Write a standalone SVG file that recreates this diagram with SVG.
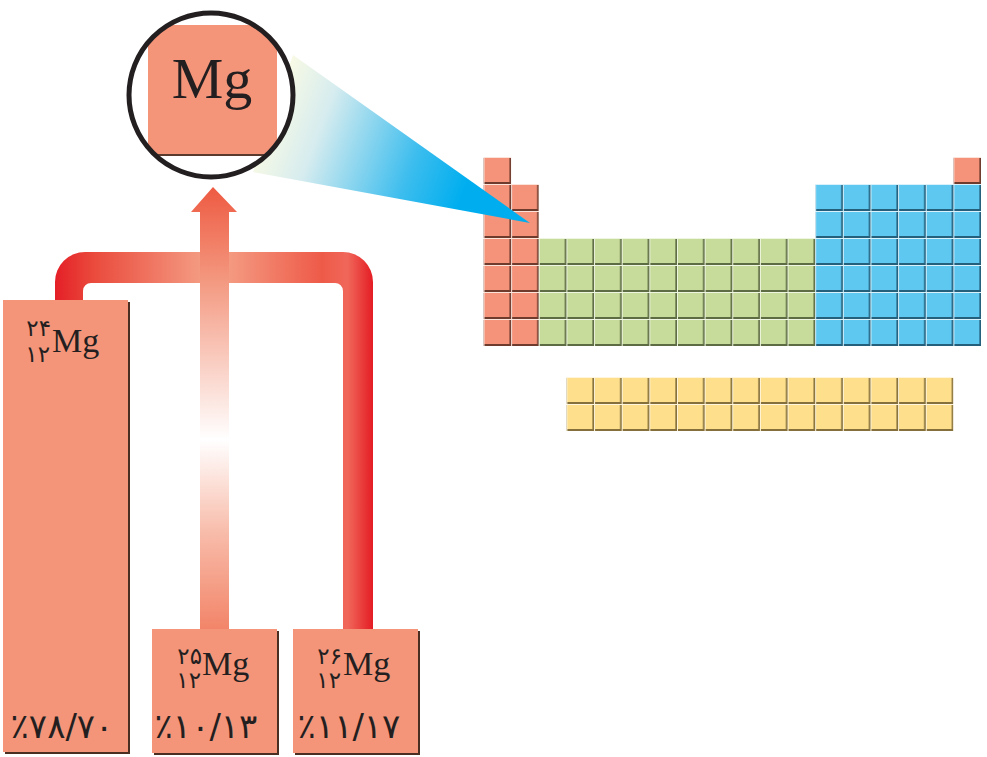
<svg xmlns="http://www.w3.org/2000/svg" width="987" height="757" viewBox="0 0 987 757">
<style>
.box{fill:#f4957a}
.shd{fill:#4a2e22}
.mg{font-family:"Liberation Serif",serif;fill:#231f20}
.fa{font-family:"DejaVu Sans",sans-serif;fill:#231f20;direction:ltr;unicode-bidi:bidi-override}
.sup{font-size:23px;text-anchor:end}
.pct{font-size:34px;text-anchor:middle}
</style>
<defs>
<pattern id="pR" patternUnits="userSpaceOnUse" x="483.5" y="157" width="27.64" height="27">
<rect width="27.64" height="27" fill="#fbe3da"/>
<rect x="1" y="1" width="26.64" height="26" fill="#6e3b2d"/>
<rect x="1" y="1" width="25" height="24" fill="#f4937a"/>
</pattern>
<pattern id="pG" patternUnits="userSpaceOnUse" x="483.5" y="157" width="27.64" height="27">
<rect width="27.64" height="27" fill="#eef5e0"/>
<rect x="1" y="1" width="26.64" height="26" fill="#5e6c44"/>
<rect x="1" y="1" width="25" height="24" fill="#c7dc9b"/>
</pattern>
<pattern id="pB" patternUnits="userSpaceOnUse" x="483.5" y="157" width="27.64" height="27">
<rect width="27.64" height="27" fill="#d8f1fb"/>
<rect x="1" y="1" width="26.64" height="26" fill="#245f7c"/>
<rect x="1" y="1" width="25" height="24" fill="#5ec8f1"/>
</pattern>
<pattern id="pY" patternUnits="userSpaceOnUse" x="566.42" y="377" width="27.64" height="27">
<rect width="27.64" height="27" fill="#fff5dc"/>
<rect x="1" y="1" width="26.64" height="26" fill="#85703c"/>
<rect x="1" y="1" width="25" height="24" fill="#fddf8c"/>
</pattern>
<linearGradient id="gBeam" gradientUnits="userSpaceOnUse" x1="265" y1="115" x2="530" y2="215">
<stop offset="0" stop-color="#fbfbe4"/>
<stop offset="0.2" stop-color="#d6ecef"/>
<stop offset="0.55" stop-color="#3cbdee"/>
<stop offset="0.75" stop-color="#00aeef"/>
<stop offset="1" stop-color="#00aeef"/>
</linearGradient>
<linearGradient id="gBr" gradientUnits="userSpaceOnUse" x1="55" y1="0" x2="373" y2="0">
<stop offset="0" stop-color="#e41f27"/>
<stop offset="0.12" stop-color="#ea4a3c"/>
<stop offset="0.5" stop-color="#f5a48a"/>
<stop offset="0.84" stop-color="#ee5a48"/>
<stop offset="0.92" stop-color="#f0675a"/>
<stop offset="1" stop-color="#e41c24"/>
</linearGradient>
<linearGradient id="gSh" gradientUnits="userSpaceOnUse" x1="0" y1="187" x2="0" y2="630">
<stop offset="0" stop-color="#ee5a42"/>
<stop offset="0.2" stop-color="#f3957c"/>
<stop offset="0.57" stop-color="#ffffff"/>
<stop offset="0.78" stop-color="#f8bcaa"/>
<stop offset="1" stop-color="#f28468"/>
</linearGradient>
<clipPath id="cc"><circle cx="211" cy="95" r="80"/></clipPath>
</defs>

<g id="periodic-table">
<rect x="483.5" y="157" width="27.64" height="189" fill="url(#pR)"/>
<rect x="511.14" y="184" width="27.64" height="162" fill="url(#pR)"/>
<rect x="538.78" y="238" width="276.4" height="108" fill="url(#pG)"/>
<rect x="815.18" y="184" width="165.84" height="162" fill="url(#pB)"/>
<rect x="953.36" y="157" width="27.64" height="27" fill="url(#pR)"/>
<rect x="566.42" y="377" width="386.96" height="54" fill="url(#pY)"/>
</g>

<g id="beam">
<polygon points="293,55 530,223 253,172" fill="url(#gBeam)"/>
</g>

<g id="mg-zoom">
<circle cx="211" cy="95" r="82" fill="#ffffff"/>
<g clip-path="url(#cc)">
<rect x="148" y="26" width="129" height="130" fill="#5a3a2c"/>
<rect x="148" y="25" width="129" height="129" class="box"/>
</g>
<circle cx="211" cy="95" r="82" fill="none" stroke="#231f20" stroke-width="5"/>
<text x="212" y="98" class="mg" font-size="58" text-anchor="middle">Mg</text>
</g>

<g id="connectors">
<path d="M55,300 L55,282 A30,30 0 0 1 85,252 L343,252 A30,30 0 0 1 373,282 L373,630 L343,630 L343,291 A8,8 0 0 0 335,283 L91,283 A8,8 0 0 0 83,291 L83,300 Z" fill="url(#gBr)"/>
<path d="M213,187 L237,212 L229,212 L229,630 L200,630 L200,212 L191,212 Z" fill="url(#gSh)"/>
</g>

<g id="mg24">
<rect x="5" y="302" width="125" height="452" class="shd"/>
<rect x="3" y="300" width="125" height="452" class="box"/>
<text x="51" y="336" class="fa sup">۲۴</text>
<text x="50" y="362" class="fa sup">۱۲</text>
<text x="52" y="352" class="mg" font-size="34">Mg</text>
<text x="62" y="738" class="fa pct">٪۷۸/۷۰</text>
</g>

<g id="mg25">
<rect x="154" y="631" width="125" height="124" class="shd"/>
<rect x="152" y="629" width="125" height="124" class="box"/>
<text x="202" y="664" class="fa sup">۲۵</text>
<text x="201" y="688" class="fa sup">۱۲</text>
<text x="202" y="675" class="mg" font-size="34">Mg</text>
<text x="206" y="738" class="fa pct">٪۱۰/۱۳</text>
</g>

<g id="mg26">
<rect x="295" y="631" width="125" height="124" class="shd"/>
<rect x="293" y="629" width="125" height="124" class="box"/>
<text x="342" y="664" class="fa sup">۲۶</text>
<text x="341" y="688" class="fa sup">۱۲</text>
<text x="343" y="675" class="mg" font-size="34">Mg</text>
<text x="349" y="738" class="fa pct">٪۱۱/۱۷</text>
</g>
</svg>
